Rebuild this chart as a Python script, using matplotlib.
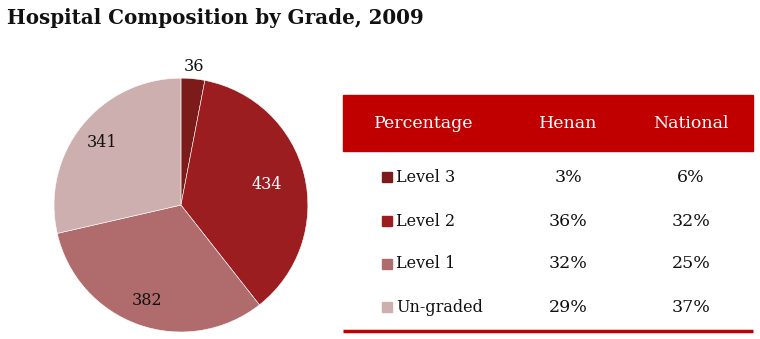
import numpy as np
import matplotlib.pyplot as plt
from matplotlib.patches import Rectangle

# hospital counts by grade, 2009
grades = ['Level 3', 'Level 2', 'Level 1', 'Un-graded']
counts = [36, 434, 382, 341]
henan_pct = ['3%', '36%', '32%', '29%']
national_pct = ['6%', '32%', '25%', '37%']
header = ['Percentage', 'Henan', 'National']

colors = ['#7d1a1a', '#9b1d1f', '#b06c6c', '#ceafaf']
red = '#c00000'

plt.rcParams['font.family'] = ['DejaVu Serif']

fig = plt.figure(figsize=(7.6, 3.39), dpi=100)

# pie
ax = fig.add_axes([0.0711, 0.0206, 0.334, 0.749])
wedges, _ = ax.pie(counts, colors=colors, startangle=90, counterclock=False,
                   radius=1, wedgeprops=dict(edgecolor='white', linewidth=0.4))
ax.set_xlim(-1, 1)
ax.set_ylim(-1, 1)
ax.set_aspect('equal')
ax.axis('off')

# value labels, per-wedge distance from centre
dist = [1.10, 0.70, 0.80, 0.79]
txtcol = ['#111111', 'white', '#111111', '#111111']
for w, v, d, c in zip(wedges, counts, dist, txtcol):
    a = np.deg2rad((w.theta1 + w.theta2) / 2)
    ax.text(d*np.cos(a), d*np.sin(a), str(v), ha='center', va='center',
            fontsize=11.5, color=c)

# table in pixel coordinates
tx = fig.add_axes([0, 0, 1, 1])
tx.set_xlim(0, 760)
tx.set_ylim(339, 0)
tx.axis('off')

tx.add_patch(Rectangle((343, 95), 410, 56, color=red))
for s, x in zip(header, [424, 568, 691]):
    tx.text(x, 124, s, ha='center', va='center', color='white', fontsize=12.5)

rows_y = [177, 221, 264, 307]
for g, h, n, c, y in zip(grades, henan_pct, national_pct, colors, rows_y):
    tx.add_patch(Rectangle((382, y - 5), 10, 10, color=c))
    tx.text(396, y, g, ha='left', va='center', fontsize=11.5, color='#111111')
    tx.text(568, y, h, ha='center', va='center', fontsize=12.5, color='#111111')
    tx.text(691, y, n, ha='center', va='center', fontsize=12.5, color='#111111')

tx.plot([343, 753], [331, 331], color=red, lw=2.5, solid_capstyle='butt')

fig.text(7/760, 1 - 18/339, 'Hospital Composition by Grade, 2009',
         ha='left', va='center', fontsize=14.3, fontweight='bold', color='#111111')

fig.savefig('out.png', dpi=100)
